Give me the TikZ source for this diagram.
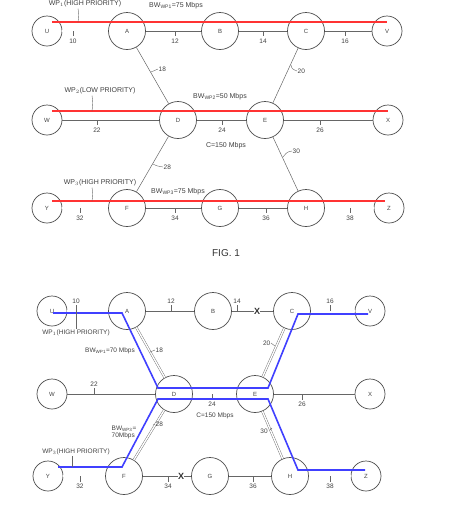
\documentclass[tikz,border=0pt]{standalone}
\usepackage{fontspec}
\setmainfont{Liberation Sans}
\begin{document}
\begin{tikzpicture}[x=1pt,y=-1pt,
  lbl/.style={font=\fontsize{6.5}{7}\selectfont, text=black!75, inner sep=0.5pt},
  lbltop/.style={font=\fontsize{7}{7.5}\selectfont, text=black!75, inner sep=0.5pt},
  big/.style={circle, draw=black!70, line width=0.7pt, minimum size=37pt, inner sep=0pt, font=\fontsize{6}{6}\selectfont, text=black!75},
  small/.style={circle, draw=black!70, line width=0.7pt, minimum size=30pt, inner sep=0pt, font=\fontsize{6}{6}\selectfont, text=black!75},
  link/.style={draw=black!60, line width=0.5pt},
  dlink/.style={draw=black!60, line width=0.4pt, double=white, double distance=1.4pt},
  tickln/.style={draw=black!60, line width=0.4pt},
  redpath/.style={draw=red!80!white, line width=1.6pt},
  bluepath/.style={draw=blue!75!white, line width=1.6pt, line join=miter},
  xmark/.style={font=\fontsize{9}{9}\selectfont\bfseries, text=black!80, inner sep=0pt}
]
\useasboundingbox (0,0) rectangle (467,512);

% ================= FIG 1 (top) =================
\node[small] (U1) at (47,31) {U};
\node[big]   (A1) at (127,31) {A};
\node[big]   (B1) at (220,31) {B};
\node[big]   (C1) at (306,31) {C};
\node[small] (V1) at (387,31) {V};
\node[small] (W1) at (47,120) {W};
\node[big]   (D1) at (178,120) {D};
\node[big]   (E1) at (265,120) {E};
\node[small] (X1) at (388,120) {X};
\node[small] (Y1) at (47,208) {Y};
\node[big]   (F1) at (127,208) {F};
\node[big]   (G1) at (220,208) {G};
\node[big]   (H1) at (306,208) {H};
\node[small] (Z1) at (389,208) {Z};

\draw[dlink] (U1) -- (A1);
\draw[link] (A1) -- (B1);
\draw[link] (B1) -- (C1);
\draw[link] (C1) -- (V1);
\draw[link] (W1) -- (D1);
\draw[link] (D1) -- (E1);
\draw[link] (E1) -- (X1);
\draw[dlink] (Y1) -- (F1);
\draw[link] (F1) -- (G1);
\draw[link] (G1) -- (H1);
\draw[dlink] (H1) -- (Z1);
\draw[link] (A1) -- (D1);
\draw[link] (C1) -- (E1);
\draw[link] (D1) -- (F1);
\draw[link] (E1) -- (H1);

% ticks and numbers
\foreach \x/\t in {73/10,175/12,263/14,345/16}{
  \coordinate (tk1-\t) at (\x,31);
  \draw[tickln] (tk1-\t) -- ++(0,5) node[lbl,below=2pt]{\t};}
\foreach \x/\t in {97/22,222/24,320/26}{
  \coordinate (tk1-\t) at (\x,120);
  \draw[tickln] (tk1-\t) -- ++(0,5) node[lbl,below=2pt]{\t};}
\foreach \x/\t in {80/32,175/34,266/36,350/38}{
  \coordinate (tk1-\t) at (\x,208);
  \draw[tickln] (tk1-\t) -- ++(0,5) node[lbl,below=2pt]{\t};}

% diagonal labels
\coordinate (d18) at (151,72);
\draw[tickln] (d18) .. controls (154,70) .. (158,69) node[lbl,right]{18};
\coordinate (d20) at (291,65);
\draw[tickln] (d20) .. controls (292,69) .. (297,71) node[lbl,right]{20};
\coordinate (d28) at (153,164);
\draw[tickln] (d28) .. controls (157,166) .. (163,167) node[lbl,right]{28};
\coordinate (d30) at (283,157);
\draw[tickln] (d30) .. controls (287,152) .. (292,151) node[lbl,right]{30};

% red paths
\coordinate (r1s) at (52,22); \coordinate (r1e) at (387,22);
\coordinate (r2s) at (52,111); \coordinate (r2e) at (388,111);
\coordinate (r3s) at (52,201); \coordinate (r3e) at (385,201);
\draw[redpath] (r1s) -- (r1e);
\draw[redpath] (r2s) -- (r2e);
\draw[redpath] (r3s) -- (r3e);

% path labels
\node[lbltop] (wp1a) at (85,4) {WP$_1$(HIGH PRIORITY)};
\coordinate (wp1ap) at (78,22);
\draw[tickln] (wp1ap) .. controls (79,15) .. (78,8.5);
\node[lbltop] (bw1a) at (176,6) {BW$_{\mathrm{WP1}}$=75 Mbps};
\node[lbltop] (wp2a) at (100,91) {WP$_2$(LOW PRIORITY)};
\coordinate (wp2ap) at (92,111);
\draw[tickln] (wp2ap) .. controls (93,103) .. (92,95.5);
\node[lbltop] (bw2a) at (220,97) {BW$_{\mathrm{WP2}}$=50 Mbps};
\node[lbltop] (cap1) at (226,146) {C=150 Mbps};
\node[lbltop] (wp3a) at (100,183) {WP$_3$(HIGH PRIORITY)};
\coordinate (wp3ap) at (92,201);
\draw[tickln] (wp3ap) .. controls (93,194) .. (92,187.5);
\node[lbltop] (bw3a) at (178,192) {BW$_{\mathrm{WP3}}$=75 Mbps};

\node[font=\fontsize{10}{10}\selectfont, text=black!80] (fig1) at (226,253) {FIG. 1};

% ================= bottom figure =================
\node[small] (U2) at (52,311) {U};
\node[big]   (A2) at (127,311) {A};
\node[big]   (B2) at (213,311) {B};
\node[big]   (C2) at (292,311) {C};
\node[small] (V2) at (370,311) {V};
\node[small] (W2) at (52,394) {W};
\node[big]   (D2) at (174,394) {D};
\node[big]   (E2) at (255,394) {E};
\node[small] (X2) at (370,394) {X};
\node[small] (Y2) at (48,476) {Y};
\node[big]   (F2) at (124,476) {F};
\node[big]   (G2) at (210,476) {G};
\node[big]   (H2) at (290,476) {H};
\node[small] (Z2) at (366,476) {Z};

\draw[dlink] (U2) -- (A2);
\draw[link] (A2) -- (B2);
\draw[dlink] (C2) -- (V2);
\draw[link] (W2) -- (D2);
\draw[dlink] (D2) -- (E2);
\draw[link] (E2) -- (X2);
\draw[dlink] (Y2) -- (F2);
\draw[link] (G2) -- (H2);
\draw[dlink] (H2) -- (Z2);
\draw[dlink] (A2) -- (D2);
\draw[dlink] (C2) -- (E2);
\draw[dlink] (D2) -- (F2);
\draw[dlink] (E2) -- (H2);
% failed links
\node[xmark] (x1) at (257,311) {X};
\draw[link] (B2) -- (x1);
\draw[link] (x1) -- (C2);
\node[xmark] (x2) at (181,476) {X};
\draw[link] (F2) -- (x2);
\draw[link] (x2) -- (G2);

% ticks
\foreach \x/\t in {76/10,171/12,237/14,330/16}{
  \coordinate (tk2-\t) at (\x,311);
  \draw[tickln] (tk2-\t) -- ++(0,-6) node[lbl,above=1pt]{\t};}
\coordinate (tk2-22) at (94,394);
\draw[tickln] (tk2-22) -- ++(0,-6) node[lbl,above=1pt]{22};
\foreach \x/\t in {212/24,302/26}{
  \coordinate (tk2-\t) at (\x,394);
  \draw[tickln] (tk2-\t) -- ++(0,6) node[lbl,below=1.5pt]{\t};}
\foreach \x/\t in {80/32,168/34,253/36,330/38}{
  \coordinate (tk2-\t) at (\x,476);
  \draw[tickln] (tk2-\t) -- ++(0,6) node[lbl,below=1.5pt]{\t};}

% diagonal labels
\coordinate (e18) at (150,352);
\draw[tickln] (e18) -- (155,350) node[lbl,right]{18};
\coordinate (e20) at (275,346);
\draw[tickln] (e20) -- (271,343) node[lbl,left]{20};
\coordinate (e28) at (153,425);
\draw[tickln] (e28) -- (155,424) node[lbl,right]{28};
\coordinate (e30) at (270,430);
\draw[tickln] (e30) -- (272,428);
\node[lbl] (l30) at (264,431) {30};

% blue paths
\coordinate (b1) at (53,313); \coordinate (b2) at (122,313);
\coordinate (b3) at (158,388); \coordinate (b4) at (268,388);
\coordinate (b5) at (298,314); \coordinate (b6) at (368,314);
\draw[bluepath] (b1) -- (b2) -- (b3) -- (b4) -- (b5) -- (b6);
\coordinate (c1) at (58,467); \coordinate (c2) at (122,467);
\coordinate (c3) at (158,399); \coordinate (c4) at (268,399);
\coordinate (c5) at (298,470); \coordinate (c6) at (365,470);
\draw[bluepath] (c1) -- (c2) -- (c3) -- (c4) -- (c5) -- (c6);

% labels
\coordinate (wp1bp) at (76,311);
\node[lbl] (wp1b) at (76,333) {WP$_1$(HIGH PRIORITY)};
\draw[tickln] (wp1bp) -- (wp1b.north -| wp1bp);
\node[lbl] (bw1b) at (110,351) {BW$_{\mathrm{WP1}}$=70 Mbps};
\node[lbl, align=left] (bw3b) at (124,432) {BW$_{\mathrm{WP3}}$=\\70Mbps};
\node[lbl] (cap2) at (215,416) {C=150 Mbps};
\node[lbl] (wp3b) at (76,452) {WP$_3$(HIGH PRIORITY)};
\coordinate (wp3bp) at (72,467);
\draw[tickln] (wp3bp) -- (wp3b.south -| wp3bp);
\end{tikzpicture}
\end{document}
